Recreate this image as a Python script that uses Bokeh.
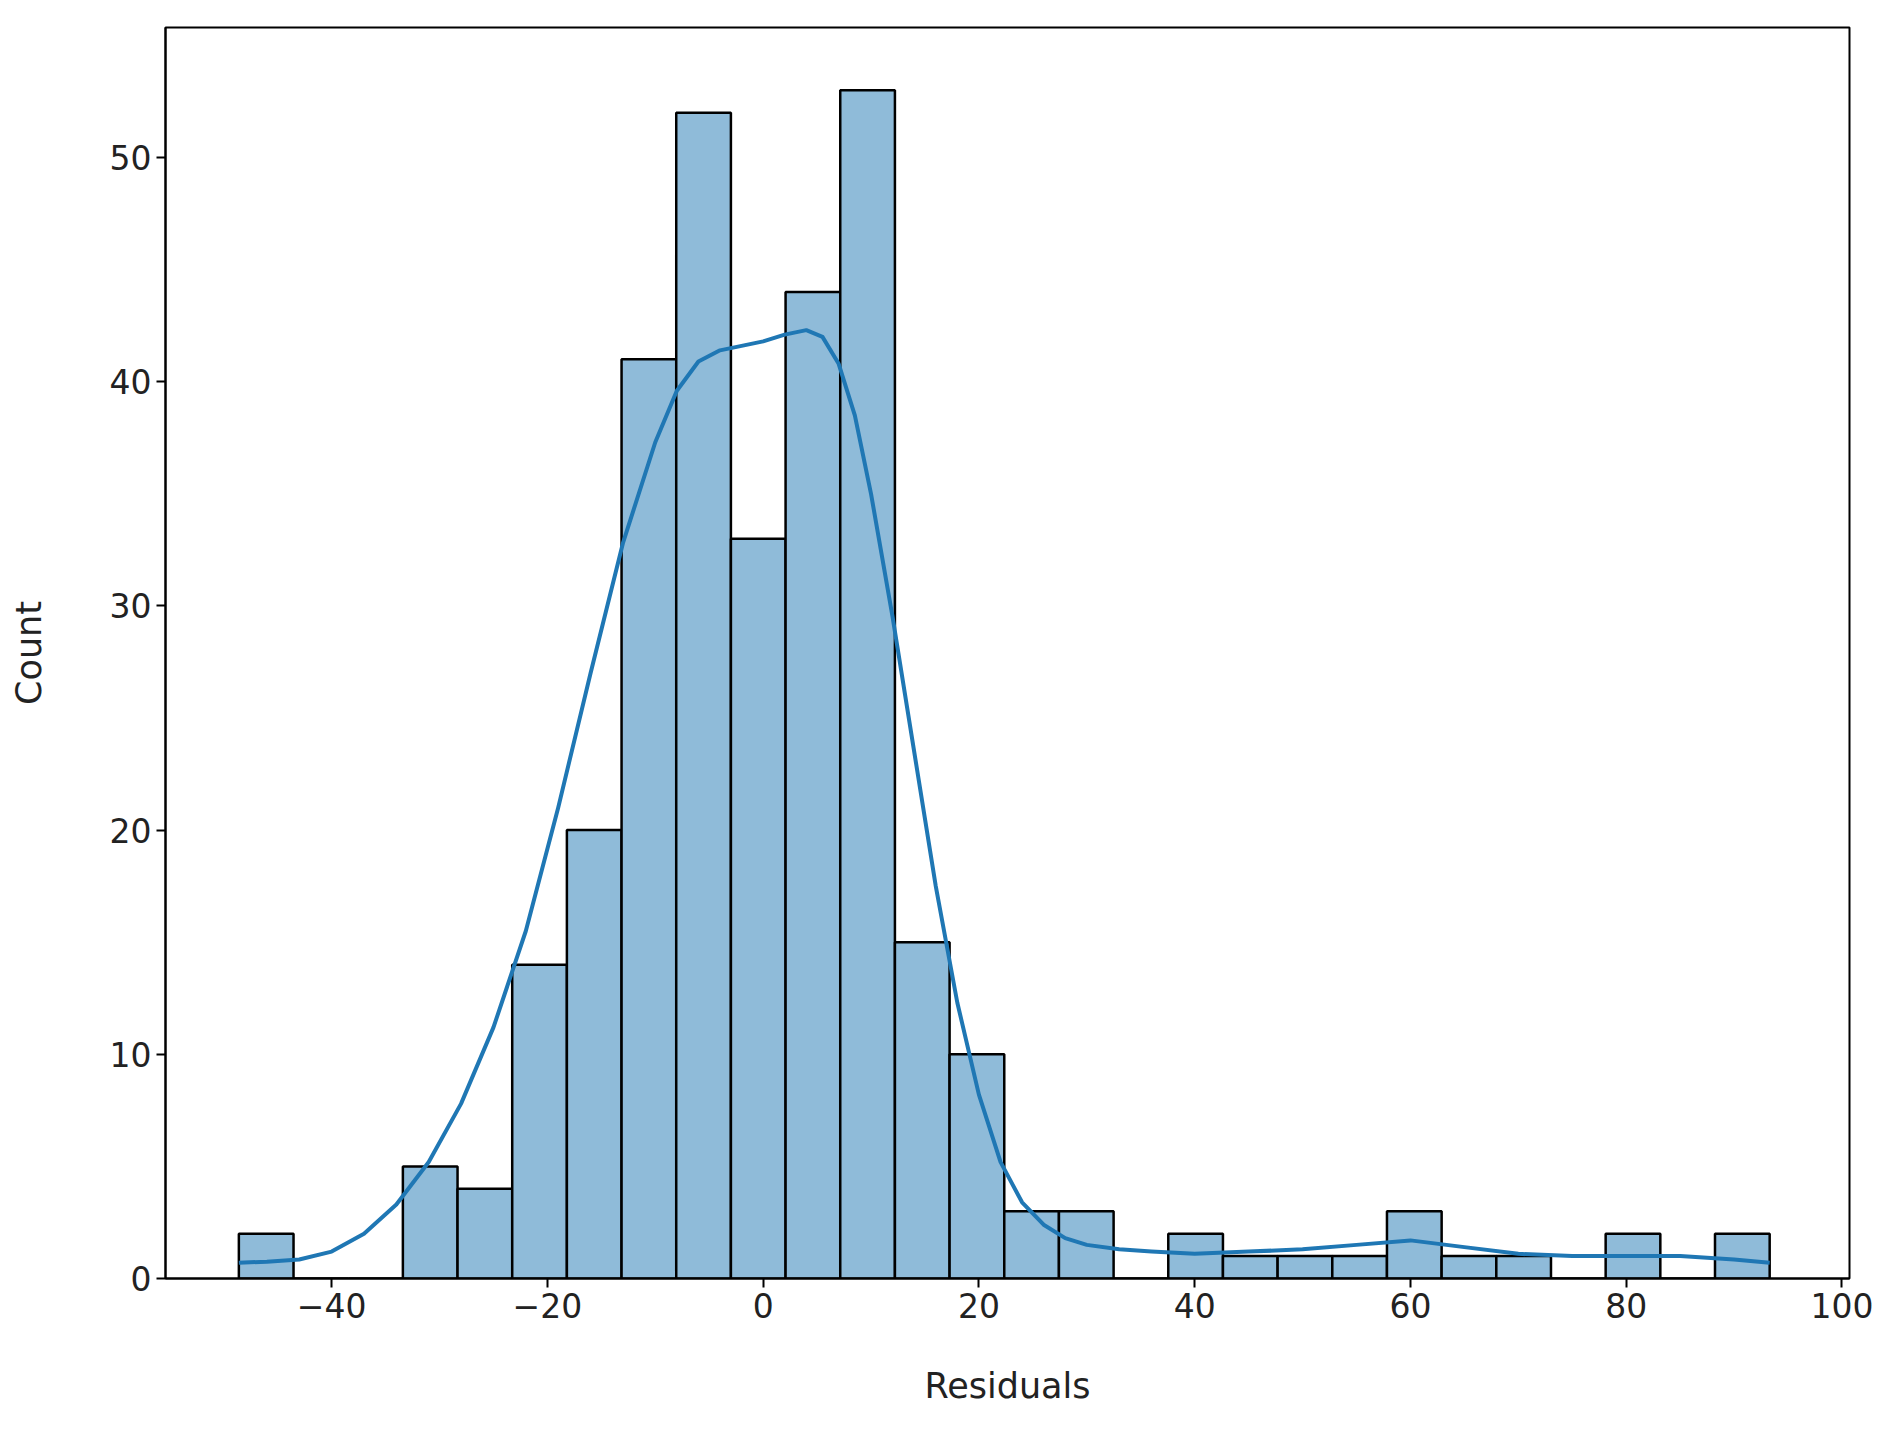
import numpy as np
from bokeh.plotting import figure
from bokeh.models import Range1d, FixedTicker
from bokeh.embed import file_html
from bokeh.resources import INLINE

bin_start, bin_end, n_bins = -48.6, 93.3, 28
counts = [2, 0, 0, 5, 4, 14, 20, 41, 52, 33, 44, 53, 15, 10, 3, 3, 0, 2, 1, 1, 1, 3, 1, 1, 0, 2, 0, 2]
kde_x = [-48.6, -46, -43, -40, -37, -34, -31, -28, -25, -22, -19, -16, -13, -10, -8, -6, -4, -2, 0, 2, 4, 5.5, 7, 8.5, 10, 12, 14, 16, 18, 20, 22, 24, 26, 28, 30, 33, 36, 40, 45, 50, 55, 60, 65, 70, 75, 80, 85, 90, 93.3]
kde_y = [0.7, 0.75, 0.85, 1.2, 2.0, 3.3, 5.2, 7.8, 11.2, 15.5, 21.0, 27.0, 32.8, 37.3, 39.6, 40.9, 41.4, 41.6, 41.8, 42.1, 42.3, 42.0, 40.8, 38.5, 35.0, 29.5, 23.5, 17.5, 12.3, 8.2, 5.2, 3.4, 2.4, 1.8, 1.5, 1.3, 1.2, 1.1, 1.2, 1.3, 1.5, 1.7, 1.4, 1.1, 1.0, 1.0, 1.0, 0.85, 0.7]
x_ticks = [-40, -20, 0, 20, 40, 60, 80, 100]
y_ticks = [0, 10, 20, 30, 40, 50]

edges = np.linspace(bin_start, bin_end, n_bins + 1)

p = figure(width=1879, height=1417, output_backend="svg", toolbar_location=None,
           x_range=Range1d(-55.4, 100.7), y_range=Range1d(0, 55.8),
           min_border_left=165, min_border_right=30, min_border_top=27, min_border_bottom=139)
p.quad(left=edges[:-1], right=edges[1:], bottom=0, top=counts,
       fill_color="#8fbbd9", line_color="black", line_width=2.5)
p.line(kde_x, kde_y, line_color="#1f77b4", line_width=4, line_join="round")

p.xgrid.visible = False
p.ygrid.visible = False
p.outline_line_color = "black"
p.outline_line_width = 2
for ax in (p.xaxis[0], p.yaxis[0]):
    ax.axis_line_width = 2
    ax.major_tick_line_width = 2
    ax.major_tick_out = 9
    ax.major_tick_in = 0
    ax.minor_tick_line_color = None
    ax.major_label_text_font_size = "33px"
    ax.major_label_text_font = "DejaVu Sans"
    ax.major_label_text_color = "#222222"
    ax.axis_label_text_font_size = "35px"
    ax.axis_label_text_font = "DejaVu Sans"
    ax.axis_label_text_font_style = "normal"
    ax.axis_label_text_color = "#222222"
p.xaxis.axis_label_standoff = 45
p.yaxis.axis_label_standoff = 58
p.xaxis.ticker = FixedTicker(ticks=x_ticks)
p.yaxis.ticker = FixedTicker(ticks=y_ticks)
p.xaxis.major_label_overrides = {t: str(t).replace("-", "\u2212") for t in x_ticks}
p.xaxis.axis_label = "Residuals"
p.yaxis.axis_label = "Count"

open("out.html", "w").write(file_html(p, INLINE))
